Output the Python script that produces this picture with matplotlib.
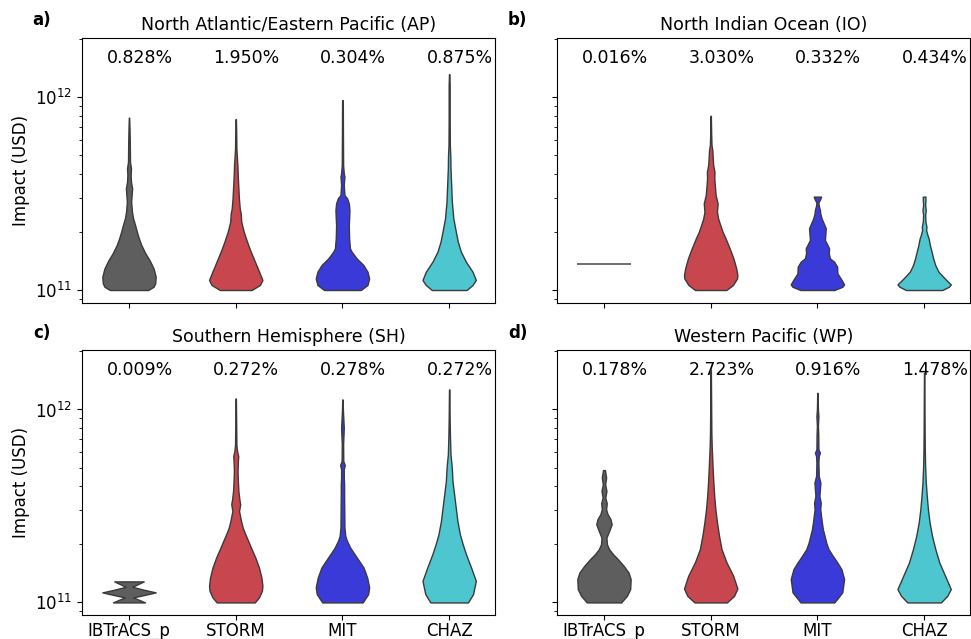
import matplotlib.pyplot as plt
import numpy as np

# modelle / farben
models = ["IBTrACS_p", "STORM", "MIT", "CHAZ"]
colors = ["#5e5e5e", "#c8474e", "#3a3ad8", "#4ec6d0"]
edge = "#3a3a3a"

titles = ["North Atlantic/Eastern Pacific (AP)", "North Indian Ocean (IO)",
          "Southern Hemisphere (SH)", "Western Pacific (WP)"]
panel_tags = ["a)", "b)", "c)", "d)"]

ap_pct = ["0.828%", "1.950%", "0.304%", "0.875%"]
io_pct = ["0.016%", "3.030%", "0.332%", "0.434%"]
sh_pct = ["0.009%", "0.272%", "0.278%", "0.272%"]
wp_pct = ["0.178%", "2.723%", "0.916%", "1.478%"]

# violin profiles: log10(impact in USD) and relative width
ap_levels = [
    [11.000, 11.017, 11.035, 11.069, 11.112, 11.155, 11.190, 11.233, 11.268, 11.302, 11.337, 11.371,
     11.406, 11.458, 11.492, 11.527, 11.561, 11.596, 11.630, 11.665, 11.751, 11.838, 11.893],
    [11.000, 11.026, 11.052, 11.095, 11.147, 11.199, 11.250, 11.302, 11.354, 11.397, 11.423, 11.475,
     11.544, 11.596, 11.648, 11.674, 11.734, 11.803, 11.886],
    [11.000, 11.026, 11.060, 11.095, 11.130, 11.164, 11.199, 11.216, 11.268, 11.337, 11.371, 11.415,
     11.449, 11.475, 11.492, 11.544, 11.570, 11.587, 11.604, 11.648, 11.803, 11.984],
    [11.000, 11.026, 11.052, 11.095, 11.147, 11.199, 11.250, 11.302, 11.371, 11.458, 11.544, 11.630,
     11.691, 11.751, 11.889, 12.062, 12.119],
]
ap_widths = [
    [117, 150, 160, 163, 150, 125, 100, 75, 60, 48, 37, 25, 18, 13, 16, 19, 12, 10, 12, 6, 5, 3, 1],
    [95, 145, 160, 140, 115, 90, 68, 48, 33, 30, 24, 19, 15, 12, 10, 8, 4, 3, 1],
    [110, 150, 160, 150, 125, 85, 55, 45, 40, 38, 40, 42, 38, 28, 12, 8, 10, 12, 8, 4, 3, 2],
    [104, 140, 160, 140, 100, 70, 52, 40, 25, 16, 12, 8, 7, 4, 3, 3, 1],
]

io_levels = [
    [11.133],
    [11.000, 11.026, 11.060, 11.078, 11.112, 11.164, 11.216, 11.268, 11.302, 11.337, 11.371, 11.406,
     11.449, 11.492, 11.544, 11.579, 11.613, 11.648, 11.691, 11.725, 11.751, 11.803, 11.903],
    [11.000, 11.017, 11.029, 11.052, 11.086, 11.121, 11.147, 11.164, 11.190, 11.216, 11.242, 11.259,
     11.294, 11.320, 11.345, 11.371, 11.397, 11.415, 11.437, 11.454, 11.470, 11.484],
    [11.000, 11.017, 11.029, 11.060, 11.095, 11.130, 11.164, 11.199, 11.233, 11.268, 11.285, 11.311,
     11.328, 11.354, 11.389, 11.415, 11.440, 11.466, 11.484],
]
io_widths = [
    [1],
    [95, 135, 160, 162, 155, 138, 115, 90, 72, 58, 45, 38, 42, 30, 25, 22, 23, 15, 12, 10, 5, 3, 1],
    [102, 150, 160, 145, 120, 118, 100, 75, 68, 70, 55, 45, 48, 50, 38, 25, 17, 15, 8, 6, 16, 22],
    [110, 150, 162, 125, 87, 67, 55, 45, 35, 27, 20, 12, 14, 8, 6, 10, 6, 8, 8],
]

sh_levels = [
    [11.000, 11.014, 11.026, 11.038, 11.052, 11.066, 11.081, 11.095, 11.109],
    [11.000, 11.026, 11.060, 11.086, 11.129, 11.181, 11.233, 11.284, 11.319, 11.353, 11.388, 11.422,
     11.457, 11.474, 11.509, 11.534, 11.578, 11.629, 11.681, 11.733, 11.759, 11.784, 11.819, 11.905, 12.057],
    [11.000, 11.043, 11.078, 11.129, 11.181, 11.216, 11.250, 11.284, 11.319, 11.345, 11.388, 11.474,
     11.560, 11.612, 11.647, 11.690, 11.712, 11.733, 11.819, 11.905, 11.991, 12.052],
    [11.000, 11.043, 11.112, 11.181, 11.250, 11.302, 11.353, 11.422, 11.491, 11.560, 11.629, 11.681,
     11.716, 11.767, 11.853, 11.940, 12.104],
]
sh_widths = [
    [98, 60, 25, 90, 163, 90, 20, 55, 90],
    [115, 140, 158, 161, 155, 140, 118, 92, 75, 58, 42, 32, 24, 20, 27, 22, 16, 13, 11, 13, 15, 8, 4, 3, 1],
    [122, 155, 161, 149, 127, 100, 73, 47, 27, 17, 12, 11, 10, 10, 8, 8, 14, 5, 4, 8, 3, 1],
    [114, 145, 162, 133, 102, 82, 65, 50, 40, 30, 20, 17, 14, 8, 5, 3, 1],
]

wp_levels = [
    [11.000, 11.034, 11.069, 11.121, 11.155, 11.190, 11.224, 11.250, 11.276, 11.302, 11.336, 11.371,
     11.405, 11.431, 11.457, 11.483, 11.514, 11.543, 11.578, 11.612, 11.647, 11.686],
    [11.000, 11.034, 11.072, 11.138, 11.207, 11.276, 11.345, 11.414, 11.483, 11.552, 11.621, 11.707,
     11.810, 11.879, 12.207],
    [11.000, 11.052, 11.121, 11.172, 11.207, 11.241, 11.276, 11.310, 11.345, 11.379, 11.414, 11.448,
     11.483, 11.517, 11.552, 11.586, 11.621, 11.655, 11.724, 11.759, 11.776, 11.793, 11.871, 11.914,
     11.966, 12.000, 12.086],
    [11.000, 11.034, 11.069, 11.138, 11.207, 11.276, 11.345, 11.414, 11.483, 11.552, 11.621, 11.707,
     11.793, 11.879, 12.190],
]
wp_widths = [
    [105, 140, 160, 163, 150, 120, 85, 55, 31, 18, 15, 32, 47, 40, 22, 13, 17, 8, 15, 7, 13, 6],
    [97, 140, 160, 135, 95, 65, 50, 38, 28, 21, 16, 11, 6, 4, 1],
    [102, 150, 161, 145, 120, 93, 67, 53, 43, 33, 27, 22, 17, 20, 12, 15, 18, 8, 6, 8, 15, 6, 5, 3,
     6, 3, 1],
    [102, 140, 162, 127, 92, 68, 48, 33, 23, 16, 10, 6, 4, 3, 1],
]

all_levels = [ap_levels, io_levels, sh_levels, wp_levels]
all_widths = [ap_widths, io_widths, sh_widths, wp_widths]
all_pct = [ap_pct, io_pct, sh_pct, wp_pct]

positions = [1, 2, 3, 4]
half_max = 0.25

fig, axes = plt.subplots(2, 2, figsize=(9.71, 6.39), dpi=100, sharex=True, sharey=True)
fig.subplots_adjust(left=0.0845, right=0.999, bottom=0.0376, top=0.9405, wspace=0.150, hspace=0.181)

for k, ax in enumerate(axes.flat):
    for i, pos in enumerate(positions):
        lv = np.array(all_levels[k][i])
        w = np.array(all_widths[k][i], dtype=float)
        if len(lv) == 1:
            # nur ein wert -> flache linie
            ax.hlines(10 ** lv[0], pos - half_max, pos + half_max, color="#555555", linewidth=1.2)
        else:
            half = half_max * w / w.max()
            ax.fill_betweenx(10 ** lv, pos - half, pos + half, facecolor=colors[i],
                             edgecolor=edge, linewidth=1.0, zorder=2)
        ax.text(pos + 0.1, 10 ** 12.205, all_pct[k][i], ha="center", va="center",
                fontsize=12.5, zorder=1)
    ax.set_yscale("log")
    ax.set_ylim(10 ** 10.935, 10 ** 12.306)
    ax.set_xlim(0.56, 4.43)
    ax.set_xticks(positions)
    ax.set_xticklabels(models)
    ax.set_title(titles[k], fontsize=12.5)
    ax.tick_params(labelsize=12)
    ax.tick_params(axis="x", pad=1.5)
    if k % 2 == 0:
        ax.set_ylabel("Impact (USD)", fontsize=12)

fig.text(0.043, 0.968, panel_tags[0], ha="center", va="center", fontsize=12, fontweight="bold")
fig.text(0.533, 0.968, panel_tags[1], ha="center", va="center", fontsize=12, fontweight="bold")
fig.text(0.043, 0.479, panel_tags[2], ha="center", va="center", fontsize=12, fontweight="bold")
fig.text(0.533, 0.479, panel_tags[3], ha="center", va="center", fontsize=12, fontweight="bold")

fig.savefig("out.png", dpi=100)
